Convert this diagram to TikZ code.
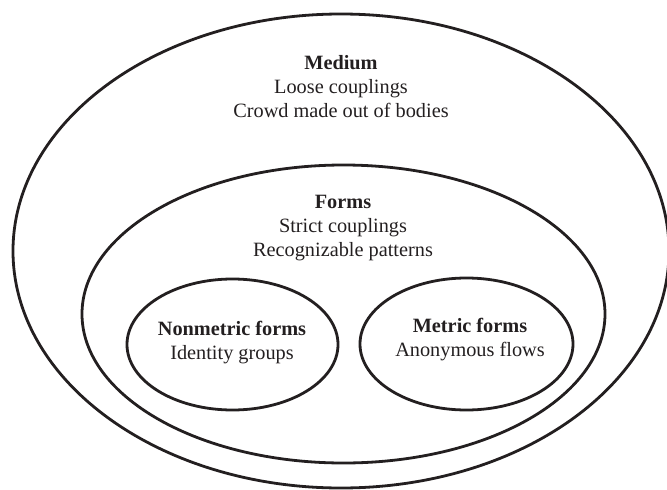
\documentclass[tikz,border=0pt]{standalone}
\usepackage{fontspec}
\setmainfont{Liberation Serif}
\usetikzlibrary{shapes.geometric}
\definecolor{ink}{HTML}{231F20}
\begin{document}
\begin{tikzpicture}[x=1pt,y=-1pt,
  ring/.style={draw=ink, line width=2.8pt, ellipse, inner sep=0pt, minimum width=#1},
  label/.style={align=center, text=ink, font=\fontsize{20.3}{24}\selectfont, inner sep=0pt}]
\useasboundingbox (0,0) rectangle (667,490);
\node[ring=656pt, minimum height=474pt] (medium) at (341,251) {};
\node[ring=523pt, minimum height=298pt] (forms) at (343.5,314) {};
\node[ring=211pt, minimum height=131pt] (nonmetric) at (232.5,344.5) {};
\node[ring=213pt, minimum height=132pt] (metric) at (466.5,344) {};
\node[label] (mediumtext) at (341,87) {\textbf{Medium}\\Loose couplings\\Crowd made out of bodies};
\node[label] (formstext) at (343,228) {\textbf{Forms}\\Strict couplings\\Recognizable patterns};
\node[label] (nonmetrictext) at (232,342.5) {\textbf{Nonmetric forms}\\Identity groups};
\node[label] (metrictext) at (470,339.5) {\textbf{Metric forms}\\Anonymous flows};
\end{tikzpicture}
\end{document}
